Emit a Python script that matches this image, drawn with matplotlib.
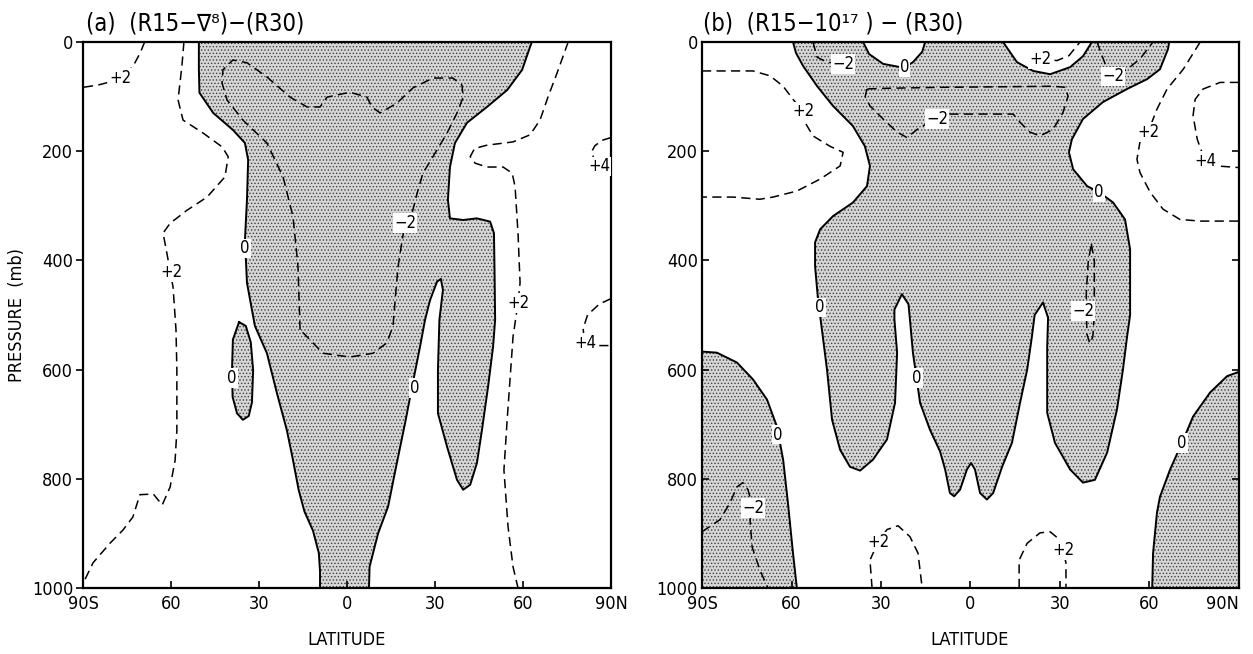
import numpy as np
import matplotlib.pyplot as plt

plt.rcParams['font.family'] = ['Liberation Sans Narrow', 'DejaVu Sans']
plt.rcParams['font.stretch'] = 'condensed'
plt.rcParams['hatch.linewidth'] = 0.6

# axes values
lat_ticks = [-90, -60, -30, 0, 30, 60, 90]
lat_labels = ['90S', '60', '30', '0', '30', '60', '90N']
p_ticks = [0, 200, 400, 600, 800, 1000]

# ---- panel (a): (R15-del8)-(R30) ----
# zero contour around the main negative (shaded) region
a_zero_lat = [-50.5, -50.5, -50.3, -45.6, -38.9, -34.8, -33.7, -34.1, -34.8, -34.1, -31.4,
              -27.3, -23.9, -20.5, -18.4, -16.5, -14.5, -11.6, -9.6, -9.2, -9.2,
              7.5, 7.7, 10.6, 14.0, 17.0, 19.8, 22.2, 24.9, 26.6, 28.3, 30.7, 32.0, 32.7,
              31.5, 31.0, 31.0, 34.1, 37.5, 39.6, 42.0, 44.3, 46.0, 48.1, 49.8, 50.5,
              50.3, 50.1, 48.8, 44.3, 39.6, 35.1, 34.4, 35.1, 36.8, 40.9, 47.7, 54.6,
              59.7, 62.4, 63.0]
a_zero_p = [0, 50, 93, 130, 161, 185, 216, 289, 363, 441, 520,
            570, 643, 711, 766, 820, 860, 895, 936, 970, 1000,
            1000, 961, 900, 851, 771, 698, 631, 558, 509, 473, 439, 434, 454,
            509, 600, 680, 741, 802, 820, 811, 771, 711, 631, 558, 509,
            420, 350, 329, 323, 326, 323, 289, 229, 185, 148, 119, 88,
            51, 9, 0]
# small negative cell near 35S
a_cell_lat = [-36.8, -38.9, -39.2, -39.0, -37.5, -35.5, -33.5, -32.4, -32.0, -32.8, -34.5, -36.8]
a_cell_p = [513, 545, 600, 650, 680, 692, 685, 660, 601, 550, 520, 513]
# +2 contour, upper left corner
a_p2a_lat = [-69.0, -70.5, -73.0, -76.0, -80.0, -85.0, -90.0]
a_p2a_p = [0, 20, 45, 60, 72, 79, 83]
# +2 contour, southern mid-latitudes
a_p2b_lat = [-55.6, -56.3, -57.6, -55.9, -49.0, -42.6, -40.5, -41.6, -47.7, -54.5, -60.3,
             -62.7, -61.4, -59.3, -58.3, -58.0, -58.0, -58.6, -60.3, -63.0, -66.0, -70.6,
             -73.0, -76.4, -80.8, -86.6, -90.0]
a_p2b_p = [0, 45, 106, 143, 167, 192, 210, 247, 284, 308, 332,
           350, 387, 449, 527, 600, 711, 766, 815, 848, 828, 829,
           870, 894, 918, 954, 992]
# +2 contour, northern mid-latitudes
a_p2c_lat = [75.4, 71.6, 68.5, 65.8, 62.4, 56.6, 47.7, 43.5, 42.0, 43.7, 47.7, 53.2, 56.3,
             57.3, 58.3, 59.0, 58.3, 56.6, 54.6, 53.5, 54.9, 56.6, 58.3]
a_p2c_p = [0, 57, 101, 143, 170, 183, 189, 195, 210, 222, 229, 229, 240,
           265, 350, 441, 478, 540, 692, 784, 888, 961, 1000]
# -2 contour (closed)
a_m2_lat = [-16.0, -16.7, -18.4, -21.8, -27.3, -35.5, -40.9, -42.6, -42.3, -38.9, -34.1,
            -27.3, -19.4, -13.6, -9.2, -6.8, 1.0, 6.8, 8.5, 11.3, 17.0, 22.5, 29.3, 36.1,
            39.2, 39.6, 37.5, 34.1, 29.3, 25.9, 23.9, 22.2, 19.8, 18.8, 17.4, 16.4, 15.7,
            13.6, 8.9, 1.0, -8.2, -13.6, -16.0]
a_m2_p = [527, 412, 320, 247, 185, 143, 106, 75, 51, 33, 38,
          64, 101, 119, 119, 101, 92, 101, 119, 130, 112, 84, 66, 66,
          79, 101, 130, 167, 210, 240, 277, 313, 332, 363, 412, 473, 520,
          551, 570, 577, 570, 540, 527]
# +4 contours at the north pole
a_p4a_lat = [90.0, 87.0, 84.5, 83.5, 84.0, 85.0, 87.5, 90.0]
a_p4a_p = [175, 180, 190, 200, 212, 228, 232, 232]
a_p4b_lat = [90.0, 86.0, 82.0, 80.5, 81.0, 85.0, 90.0]
a_p4b_p = [470, 480, 500, 525, 551, 556, 556]
a_labels = [('+2', -77.4, 66), ('+2', -59.7, 421), ('0', -34.8, 378), ('0', -39.2, 615),
            ('\u22122', 19.8, 332), ('0', 23.2, 634), ('+2', 58.3, 478),
            ('+4', 86.0, 228), ('+4', 81.2, 551)]

# ---- panel (b): (R15-10^17)-(R30) ----
b_zero_lat = [-59.5, -58.5, -56.1, -51.4, -46.1, -39.4, -35.4, -33.7, -34.7, -39.4, -46.1,
              -50.4, -52.1, -52.1, -51.1, -49.8, -48.1, -46.4, -43.7, -40.4, -37.0, -32.7,
              -28.0, -25.3, -24.6, -25.5, -25.5, -23.0, -20.8, -20.3, -19.3, -16.9, -13.6,
              -10.2, -8.5, -6.9, -5.5, -3.5, -1.2, 0.2, 1.5, 3.2, 5.5, 7.6, 10.6, 13.9,
              16.6, 19.0, 20.6, 21.5, 24.3, 26.0, 25.7, 25.7, 28.3, 33.4, 37.7, 41.7, 45.8,
              49.1, 51.1, 52.5, 53.5, 53.5, 51.8, 47.8, 43.1, 39.1, 34.4, 33.0, 34.0, 37.7,
              44.4, 52.5, 59.2, 63.5, 66.2, 66.6]
b_zero_p = [0, 20, 44, 81, 117, 154, 191, 227, 264, 294, 319,
            343, 367, 411, 472, 527, 600, 692, 747, 778, 785, 765,
            728, 661, 569, 508, 490, 462, 480, 508, 569, 661, 710,
            750, 783, 826, 832, 820, 783, 771, 783, 826, 838, 826, 778, 734,
            661, 600, 539, 500, 477, 505, 560, 679, 734, 783, 807, 802, 752,
            673, 600, 539, 500, 380, 325, 294, 275, 264, 233, 202, 178, 141,
            110, 86, 68, 50, 13, 0]
# positive bumps at the top
b_bump1_lat = [-36.0, -34.0, -29.3, -23.6, -22.0, -19.3, -16.2, -15.2]
b_bump1_p = [0, 22, 40, 46, 46, 37, 18, 0]
b_bump2_lat = [10.9, 15.6, 21.0, 26.7, 33.4, 37.7, 40.7]
b_bump2_p = [0, 37, 53, 59, 46, 26, 0]
# shaded corners near the surface
b_sw_lat = [-90.0, -85.0, -78.3, -72.9, -68.2, -64.9, -62.8, -61.2, -59.5, -58.2]
b_sw_p = [567, 569, 587, 618, 655, 704, 765, 844, 936, 1000]
b_se_lat = [90.0, 86.0, 80.3, 74.6, 70.9, 66.9, 63.5, 62.5, 61.2, 60.9]
b_se_p = [604, 612, 642, 686, 734, 783, 833, 862, 936, 1000]
# dashed contours
b_p2a_lat = [-90.0, -83.0, -72.9, -67.2, -62.8, -59.5, -56.1, -55.5, -52.8, -47.1, -42.7,
             -43.7, -50.4, -58.2, -66.2, -70.6, -79.6, -90.0]
b_p2a_p = [53, 53, 53, 62, 81, 105, 127, 147, 172, 191, 202,
           227, 251, 273, 284, 288, 284, 284]
b_m2a_lat = [-52.8, -51.4, -48.1, -42.7]
b_m2a_p = [0, 28, 37, 40]
b_m2b_lat = [-34.7, -35.3, -33.7, -29.3, -24.6, -21.3, -16.9, -11.2, -6.9, 4.0, 14.3, 16.6,
             19.9, 23.3, 27.7, 31.0, 32.7, 31.7, 27.7, 10.0, -10.0, -30.0, -34.7]
b_m2b_p = [86, 100, 117, 141, 165, 175, 156, 141, 132, 132, 132, 147,
           165, 172, 160, 129, 99, 83, 81, 82, 83, 85, 86]
b_p2b_lat = [23.3, 29.0, 33.0, 36.7]
b_p2b_p = [31, 34, 25, 0]
b_m2c_lat = [42.4, 45.8, 47.8, 52.5, 56.8, 61.2]
b_m2c_p = [0, 50, 63, 50, 31, 0]
b_p2c_lat = [77.0, 71.3, 65.9, 62.5, 59.5, 56.8, 55.8, 56.8, 60.2, 64.5, 70.2, 77.0, 83.7, 90.0]
b_p2c_p = [0, 50, 86, 123, 165, 183, 215, 239, 275, 306, 325, 328, 328, 328]
b_p4_lat = [90.0, 83.7, 78.0, 75.3, 74.6, 76.0, 78.6, 82.6, 90.0]
b_p4_p = [74, 74, 86, 105, 135, 178, 218, 227, 230]
b_m2d_lat = [40.5, 41.5, 41.5, 41.0, 40.0, 39.0, 38.8, 39.5, 40.5]
b_m2d_p = [370, 400, 500, 540, 552, 535, 460, 400, 370]
b_m2e_lat = [-90.0, -84.0, -80.6, -78.3, -76.3, -74.6, -72.9, -73.9, -73.2, -70.6, -67.9]
b_m2e_p = [897, 875, 844, 815, 807, 820, 853, 875, 925, 967, 1000]
b_p2d_lat = [-33.0, -33.7, -31.0, -28.0, -24.3, -20.3, -17.6, -16.2]
b_p2d_p = [1000, 949, 916, 893, 886, 906, 936, 1000]
b_p2e_lat = [16.3, 16.3, 19.0, 23.3, 26.7, 30.0, 31.0, 32.0, 32.0]
b_p2e_p = [1000, 949, 918, 899, 897, 912, 930, 954, 1000]
b_labels = [('\u22122', -42.7, 40), ('0', -22.0, 46), ('+2', -56.1, 127), ('\u22122', -11.2, 141),
            ('+2', 23.3, 31), ('\u22122', 47.8, 63), ('+2', 59.5, 165), ('+4', 78.6, 218),
            ('0', 43.1, 275), ('0', -50.4, 486), ('\u22122', 37.7, 493), ('0', -17.9, 615),
            ('0', -64.5, 719), ('0', 70.9, 734), ('\u22122', -72.9, 853), ('+2', -31.0, 916),
            ('+2', 31.0, 930)]

# stippled shading of negative regions
SHADE = dict(facecolor='#d6d6d6', edgecolor='#404040', linewidth=0, hatch='.....', zorder=1)


def solid(ax, lat, p):
    ax.plot(lat, p, color='black', lw=1.4, zorder=3)


def dashed(ax, lat, p):
    ax.plot(lat, p, color='black', lw=1.1, ls=(0, (6, 3.5)), zorder=3)


def labels(ax, items):
    for s, x, y in items:
        ax.text(x, y, s, ha='center', va='center', fontsize=12, zorder=4,
                bbox=dict(facecolor='white', edgecolor='none', pad=0.6))


def setup(ax):
    ax.set_xlim(lat_ticks[0], lat_ticks[-1])
    ax.set_ylim(p_ticks[-1], p_ticks[0])
    ax.set_xticks(lat_ticks)
    ax.set_xticklabels(lat_labels, fontsize=13)
    ax.set_yticks(p_ticks)
    ax.set_yticklabels([str(v) for v in p_ticks], fontsize=13)
    ax.tick_params(axis='x', direction='in', length=5, width=1.2, pad=5)
    for s in ax.spines.values():
        s.set_linewidth(1.6)


fig = plt.figure(figsize=(12.53, 6.54), dpi=100)
W, H = 1253, 654

# ---- (a)
axa = fig.add_axes([83 / W, 1 - 588 / H, 528 / W, 546 / H])
setup(axa)
axa.tick_params(axis='y', direction='out', length=5, width=1.2, pad=2)
axa.fill(a_zero_lat, a_zero_p, **SHADE)
axa.fill(a_cell_lat, a_cell_p, **SHADE)
solid(axa, a_zero_lat, a_zero_p)
solid(axa, a_cell_lat, a_cell_p)
for la, pp in [(a_p2a_lat, a_p2a_p), (a_p2b_lat, a_p2b_p), (a_p2c_lat, a_p2c_p),
               (a_m2_lat, a_m2_p), (a_p4a_lat, a_p4a_p), (a_p4b_lat, a_p4b_p)]:
    dashed(axa, la, pp)
labels(axa, a_labels)
axa.text(0.005, 1.012, '(a)  (R15\u2212\u2207\u2078)\u2212(R30)', transform=axa.transAxes,
         ha='left', va='bottom', fontsize=17)

# ---- (b)
axb = fig.add_axes([702 / W, 1 - 588 / H, 537 / W, 546 / H])
setup(axb)
axb.tick_params(axis='y', direction='in', length=5, width=1.2, pad=3, right=True)
axb.fill(b_zero_lat, b_zero_p, **SHADE)
axb.fill(b_bump1_lat, b_bump1_p, facecolor='white', edgecolor='none', zorder=2)
axb.fill(b_bump2_lat, b_bump2_p, facecolor='white', edgecolor='none', zorder=2)
axb.fill_betweenx(b_sw_p, lat_ticks[0], b_sw_lat, **SHADE)
axb.fill_betweenx(b_se_p, b_se_lat, lat_ticks[-1], **SHADE)
for la, pp in [(b_zero_lat, b_zero_p), (b_bump1_lat, b_bump1_p), (b_bump2_lat, b_bump2_p),
               (b_sw_lat, b_sw_p), (b_se_lat, b_se_p)]:
    solid(axb, la, pp)
for la, pp in [(b_p2a_lat, b_p2a_p), (b_m2a_lat, b_m2a_p), (b_m2b_lat, b_m2b_p),
               (b_p2b_lat, b_p2b_p), (b_m2c_lat, b_m2c_p), (b_p2c_lat, b_p2c_p),
               (b_p4_lat, b_p4_p), (b_m2d_lat, b_m2d_p), (b_m2e_lat, b_m2e_p),
               (b_p2d_lat, b_p2d_p), (b_p2e_lat, b_p2e_p)]:
    dashed(axb, la, pp)
labels(axb, b_labels)
axb.text(0.002, 1.012, '(b)  (R15\u221210\u00b9\u2077 ) \u2212 (R30)', transform=axb.transAxes,
         ha='left', va='bottom', fontsize=17)
# keep the outer tick labels inside the figure
axb.get_xticklabels()[-1].set_horizontalalignment('right')
axb.get_xticklabels()[-1].set_x(lat_ticks[-1] + 6)

# axis titles
fig.text(17 / W, 1 - 315 / H, 'PRESSURE  (mb)', rotation=90, ha='center', va='center', fontsize=13)
fig.text(347 / W, 1 - 640 / H, 'LATITUDE', ha='center', va='center', fontsize=13)
fig.text(970 / W, 1 - 640 / H, 'LATITUDE', ha='center', va='center', fontsize=13)

fig.savefig('out.png', dpi=100)
